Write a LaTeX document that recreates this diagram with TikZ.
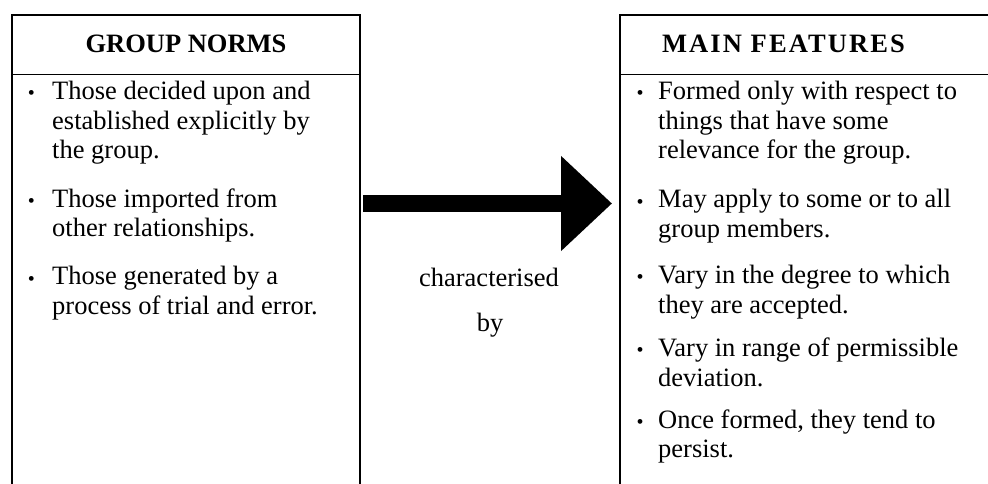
\documentclass[tikz,border=0pt]{standalone}
\usepackage{fontspec}
\setmainfont{Liberation Serif}
\usetikzlibrary{arrows.meta}
\begin{document}
\begin{tikzpicture}[x=1pt,y=-1pt,
  frame/.style={draw=black, line width=1.4pt},
  bodyfont/.style={font=\fontsize{26.5}{29.5}\selectfont},
  headtxt/.style={font=\fontsize{26.5}{29.5}\selectfont\bfseries, anchor=base, inner sep=0pt},
  % multi-line items are placed by the baseline of their last line
  itemtxt/.style={bodyfont, anchor=base west, align=left, inner sep=0pt},
  dot/.style={font=\fontsize{20}{20}\selectfont, anchor=base, inner sep=0pt},
  midtxt/.style={bodyfont, anchor=base, inner sep=0pt},
  bigarrow/.style={line width=17.5pt, -{Triangle[length=51pt,width=92pt]}}]
\useasboundingbox (0,0) rectangle (988,484);
\clip (0,0) rectangle (988,484);

% left panel: open at the bottom
\draw[frame] (12,500) -- (12,15) -- (360,15) -- (360,500);
\draw[frame] (12,74.5) -- (360,74.5);
% right panel: runs off to the right
\draw[frame] (620,500) -- (620,15) -- (1000,15);
\draw[frame] (620,74.5) -- (1000,74.5);

% headings
\node[headtxt] (lhead) at (186,53) {GROUP NORMS};
\node[headtxt] (rhead) at (783.5,53) {\addfontfeature{LetterSpace=8}MAIN FEATURES};

% left list
\node[dot] (lb1) at (31.5,100) {•};
\node[itemtxt] (l1) at (52,159) {Those decided upon and\\established explicitly by\\the group.};
\node[dot] (lb2) at (31.5,207) {•};
\node[itemtxt] (l2) at (52,236.5) {Those imported from\\other relationships.};
\node[dot] (lb3) at (31.5,285) {•};
\node[itemtxt] (l3) at (52,314) {Those generated by a\\process of trial and error.};

% right list
\node[dot] (rb1) at (640,100) {•};
\node[itemtxt] (r1) at (658,159) {Formed only with respect to\\things that have some\\relevance for the group.};
\node[dot] (rb2) at (640,208) {•};
\node[itemtxt] (r2) at (658,237) {May apply to some or to all\\group members.};
\node[dot] (rb3) at (640,283) {•};
\node[itemtxt] (r3) at (658,313) {Vary in the degree to which\\they are accepted.};
\node[dot] (rb4) at (640,356) {•};
\node[itemtxt] (r4) at (658,386) {Vary in range of permissible\\deviation.};
\node[dot] (rb5) at (640,428) {•};
\node[itemtxt] (r5) at (658,457.5) {Once formed, they tend to\\persist.};

% link label
\node[midtxt] (chr) at (489,286.5) {characterised};
\node[midtxt] (byw) at (490,331) {by};

% the block arrow between the panels
\coordinate (arrS) at (363,203.5);
\coordinate (arrE) at (612,203.5);
\draw[bigarrow] (arrS) -- (arrE);
\end{tikzpicture}
\end{document}
